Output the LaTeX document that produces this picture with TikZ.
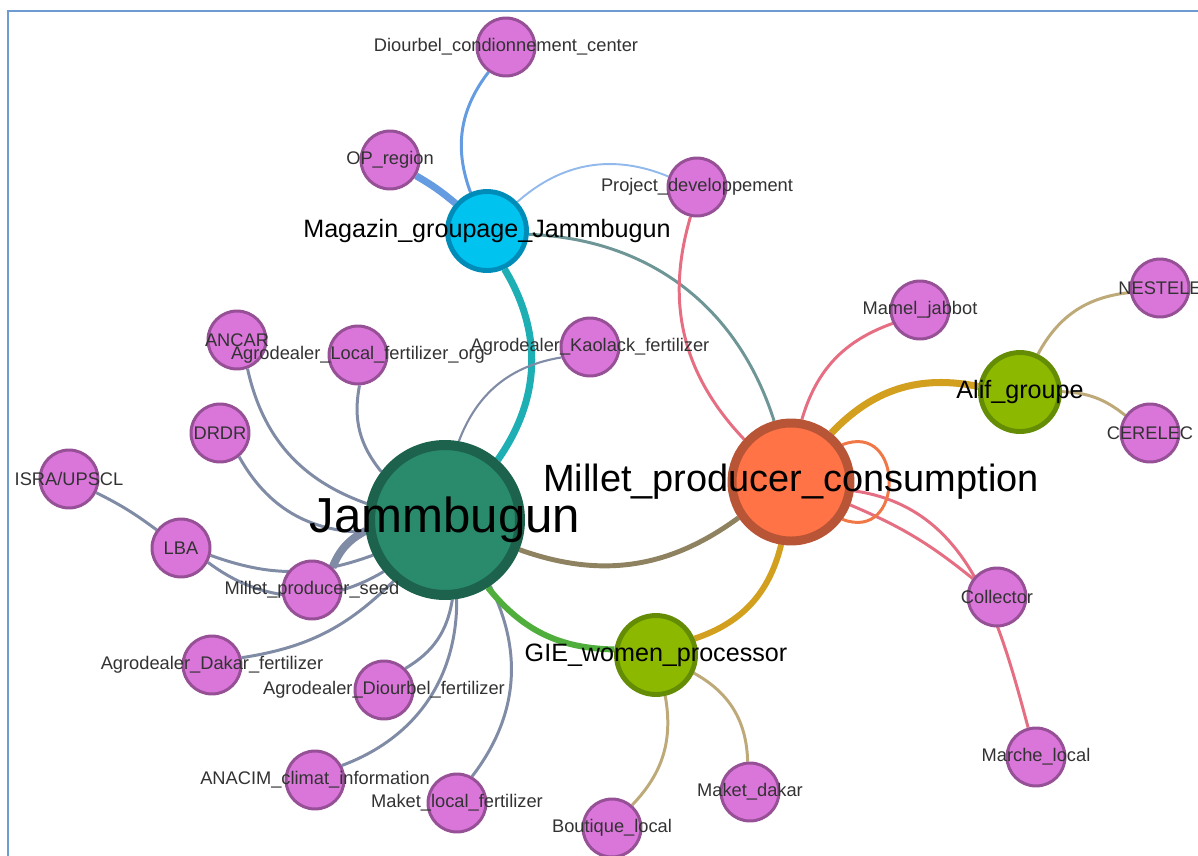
\documentclass[tikz,border=0pt]{standalone}
\usepackage{fontspec}
\setmainfont{Liberation Sans}
\usetikzlibrary{backgrounds}

\definecolor{framblue}{RGB}{110,155,210}
\definecolor{actorfill}{RGB}{218,118,218}
\definecolor{actorline}{RGB}{150,80,150}
\definecolor{jamfill}{RGB}{42,138,108}
\definecolor{jamline}{RGB}{28,98,76}
\definecolor{consfill}{RGB}{255,115,70}
\definecolor{consline}{RGB}{185,85,55}
\definecolor{magfill}{RGB}{0,195,240}
\definecolor{magline}{RGB}{0,140,185}
\definecolor{greenfill}{RGB}{140,185,0}
\definecolor{greenline}{RGB}{100,140,5}
\definecolor{labelgray}{RGB}{50,50,50}
\definecolor{spoke}{RGB}{128,140,166}
\definecolor{magblue}{RGB}{100,155,225}
\definecolor{lightblue}{RGB}{145,185,235}
\definecolor{greyteal}{RGB}{110,150,150}
\definecolor{magteal}{RGB}{30,175,180}
\definecolor{rose}{RGB}{230,110,130}
\definecolor{brownline}{RGB}{142,130,96}
\definecolor{gold}{RGB}{210,160,30}
\definecolor{loopred}{RGB}{240,120,70}
\definecolor{leafgreen}{RGB}{80,175,60}
\definecolor{tanline}{RGB}{190,170,120}

\begin{document}
\begin{tikzpicture}[
  x=0.02cm, y=0.02cm,
  actor/.style={circle, draw=actorline, fill=actorfill, line width=1.7pt, minimum size=1.16cm, inner sep=0pt,
    label={[font=\fontsize{10.4}{12}\selectfont, text=labelgray]center:#1}},
  jamnode/.style={circle, draw=jamline, fill=jamfill, line width=5.7pt, minimum size=3cm, inner sep=0pt,
    label={[font=\fontsize{28}{32}\selectfont]center:#1}},
  consnode/.style={circle, draw=consline, fill=consfill, line width=5.1pt, minimum size=2.36cm, inner sep=0pt,
    label={[font=\fontsize{21.6}{25}\selectfont]center:#1}},
  magnode/.style={circle, draw=magline, fill=magfill, line width=2.8pt, minimum size=1.58cm, inner sep=0pt,
    label={[font=\fontsize{14.3}{16}\selectfont]center:#1}},
  groupnode/.style={circle, draw=greenline, fill=greenfill, line width=2.8pt, minimum size=1.58cm, inner sep=0pt,
    label={[font=\fontsize{14.3}{16}\selectfont]center:#1}},
  link/.style={line width=1.7pt},
  thick link/.style={line width=4pt}
]
\useasboundingbox (0,0) rectangle (1198,-856);
\clip (0,0) rectangle (1198,-856);
\draw[framblue, line width=0.8pt] (8,-856) -- (8,-11) -- (1198,-11);

% hubs
\node[jamnode={Jammbugun}] (jam) at (445,-520) {};
\node[consnode={Millet\_producer\_consumption}] (cons) at (791,-482) {};
\node[magnode={Magazin\_groupage\_Jammbugun}] (magazin) at (487,-231) {};
\node[groupnode={Alif\_groupe}] (alif) at (1020,-392) {};
\node[groupnode={GIE\_women\_processor}] (gie) at (656,-655) {};

% actors
\node[actor={Diourbel\_condionnement\_center}] (diourbel) at (506,-47) {};
\node[actor={OP\_region}] (opregion) at (390,-160) {};
\node[actor={Project\_developpement}] (project) at (697,-187) {};
\node[actor={ANCAR}] (ancar) at (237,-340) {};
\node[actor={Agrodealer\_Local\_fertilizer\_org}] (agrolocal) at (358,-355) {};
\node[actor={Agrodealer\_Kaolack\_fertilizer}] (kaolack) at (590,-347) {};
\node[actor={DRDR}] (drdr) at (220,-433) {};
\node[actor={ISRA/UPSCL}] (isra) at (69,-479) {};
\node[actor={LBA}] (lba) at (181,-548) {};
\node[actor={Millet\_producer\_seed}] (seed) at (312,-590) {};
\node[actor={Agrodealer\_Dakar\_fertilizer}] (dakar) at (212,-665) {};
\node[actor={Agrodealer\_Diourbel\_fertilizer}] (diourbelfert) at (384,-690) {};
\node[actor={ANACIM\_climat\_information}] (anacim) at (315,-780) {};
\node[actor={Maket\_local\_fertilizer}] (maketlocal) at (457,-803) {};
\node[actor={Boutique\_local}] (boutique) at (612,-828) {};
\node[actor={Maket\_dakar}] (maketdakar) at (750,-792) {};
\node[actor={Mamel\_jabbot}] (mamel) at (920,-310) {};
\node[actor={NESTELE}] (nestele) at (1160,-288) {};
\node[actor={CERELEC}] (cerelec) at (1150,-433) {};
\node[actor={Collector}] (collector) at (997,-597) {};
\node[actor={Marche\_local}] (marche) at (1036,-757) {};

\begin{pgfonlayer}{background}
% magazin links
\draw[link, magblue] (diourbel) to[bend right=29] (magazin);
\draw[thick link, magblue] (opregion) to[bend left=5] (magazin);
\draw[link, lightblue, line width=1.1pt] (magazin) to[bend left=32] (project);
\draw[link, greyteal] (magazin) to[bend left=35] (cons);
\draw[thick link, magteal] (magazin) to[bend left=33] (jam);
\draw[link, rose] (project) to[bend right=30] (cons);

% jammbugun spokes
\draw[link, spoke, line width=1.2pt] (kaolack) to[bend right=30] (jam);
\draw[link, spoke] (agrolocal) to[bend right=25] (jam);
\draw[link, spoke] (ancar) to[bend right=29] (jam);
\draw[link, spoke] (drdr) to[bend right=30] (jam);
\draw[link, spoke] (isra) to[bend left=5] (lba);
\draw[link, spoke] (lba) to[bend right=20] (jam);
\draw[link, spoke] (lba) to[bend right=34] (jam);
\draw[link, spoke, line width=4.5pt] (seed) to[bend left=20] (jam);
\draw[link, spoke] (dakar) to[bend right=18] (jam);
\draw[link, spoke] (diourbelfert) to[bend right=25] (jam);
\draw[link, spoke] (anacim) to[bend right=35] (jam);
\draw[link, spoke] (maketlocal) to[bend right=32] (jam);

% between hubs
\draw[link, brownline, line width=2.8pt] (jam) to[bend right=28] (cons);
\draw[link, leafgreen, line width=3.4pt] (jam) to[bend right=25] (gie);
\draw[link, gold, line width=3.4pt] (cons) to[bend left=29] (gie);
\draw[thick link, gold] (cons) to[bend left=29] (alif);

% consumption links
\draw[link, rose] (cons) to[bend left=27] (mamel);
\draw[link, rose] (cons) to[bend left=8] (collector);
\draw[link, rose] (cons) to[out=-8, in=105] (marche);
\draw[link, loopred] (cons.36) to[out=21, in=-21, looseness=2.3] (cons.-36);

% groupe links
\draw[link, tanline] (alif) to[bend left=28] (nestele);
\draw[link, tanline] (alif) to[bend left=18] (cerelec);
\draw[link, tanline] (gie) to[bend left=27] (boutique);
\draw[link, tanline] (gie) to[bend left=30] (maketdakar);
\end{pgfonlayer}

\end{tikzpicture}
\end{document}
